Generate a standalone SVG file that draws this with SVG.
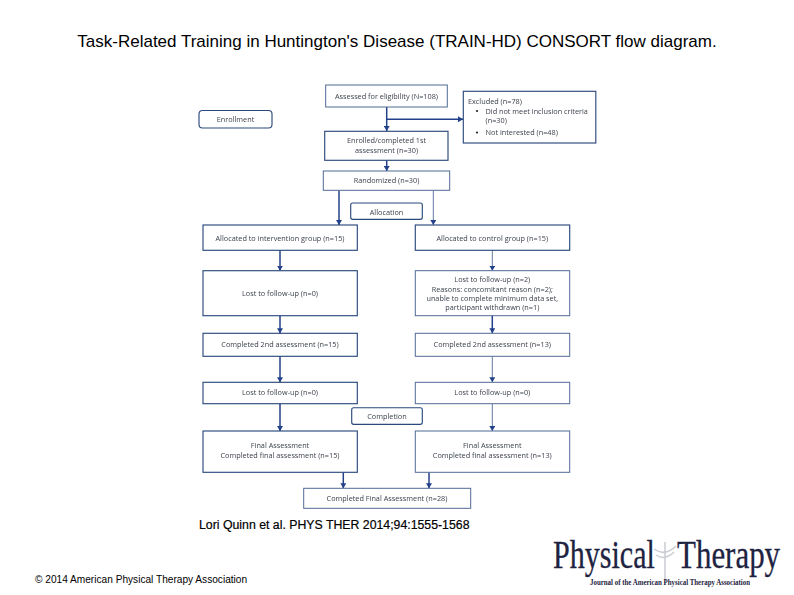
<svg xmlns="http://www.w3.org/2000/svg" width="794" height="595" viewBox="0 0 794 595">
<style>
.b{fill:#fff;stroke:#4f6a95;stroke-width:1}
.h{stroke:#2b4a7c;stroke-width:1.15}
.t{font-family:"Open Sans","Liberation Sans",sans-serif;font-size:7.3px;fill:#3c424c;text-anchor:middle;filter:url(#s)}
.l{text-anchor:start}
.c{fill:none;stroke:#5f78a3;stroke-width:1}
.k{stroke:#23408a;stroke-width:1.5}
.cap{font-family:"Liberation Sans",Arial,sans-serif;fill:#000}
.logo{font-family:"Liberation Serif","Times New Roman",serif;fill:#1e2342}
</style>
<defs>
<filter id="s" x="-5%" y="-30%" width="110%" height="160%"><feGaussianBlur stdDeviation="0.28"/></filter>
<marker id="a" markerUnits="userSpaceOnUse" markerWidth="6" markerHeight="6" refX="5" refY="3" orient="auto"><path d="M0 0L5 3L0 6Z" fill="#23408a"/></marker>
</defs>
<rect width="794" height="595" fill="#fff"/>
<text class="cap" x="397" y="46.5" font-size="17" text-anchor="middle">Task-Related Training in Huntington's Disease (TRAIN-HD) CONSORT flow diagram.</text>
<g id="connectors">
<path class="c k" marker-end="url(#a)" d="M386.7 107V131"/>
<path class="c k" marker-end="url(#a)" d="M386.7 119.3H463"/>
<path class="c k" marker-end="url(#a)" d="M386.7 160V171"/>
<path class="c k" marker-end="url(#a)" d="M339 190.3V225"/>
<path class="c" marker-end="url(#a)" d="M433.3 190.3V225"/>
<path class="c k" marker-end="url(#a)" d="M280 250.3V270.7"/>
<path class="c" marker-end="url(#a)" d="M492.3 250.3V270.7"/>
<path class="c k" marker-end="url(#a)" d="M280 315.7V333.3"/>
<path class="c k" marker-end="url(#a)" d="M492.3 315.7V333.3"/>
<path class="c k" marker-end="url(#a)" d="M280 356.3V382.3"/>
<path class="c" marker-end="url(#a)" d="M492.3 356.3V382.3"/>
<path class="c k" marker-end="url(#a)" d="M280 403.7V431"/>
<path class="c" marker-end="url(#a)" d="M492.3 403.7V431"/>
<path class="c k" marker-end="url(#a)" d="M343.3 472.3V488.3"/>
<path class="c k" marker-end="url(#a)" d="M429 472.3V488.3"/>
</g>
<g id="enrollment"><rect class="b h" x="199" y="110.5" width="73" height="17.5" rx="3.5"/><text class="t" x="235.5" y="122">Enrollment</text></g>
<g id="assessed"><rect class="b" x="325.7" y="85" width="121.6" height="22"/><text class="t" x="386.5" y="98.5">Assessed for eligibility (N=108)</text></g>
<g id="excluded"><rect class="b h" x="463.3" y="91.3" width="132.5" height="51.7"/>
<text class="t l" x="468" y="104">Excluded (n=78)</text>
<circle cx="477" cy="111" r="1.1" fill="#222"/><text class="t l" x="485.5" y="113.5">Did not meet inclusion criteria</text>
<text class="t l" x="485.5" y="122.5">(n=30)</text>
<circle cx="477" cy="132.5" r="1.1" fill="#222"/><text class="t l" x="485.5" y="135">Not interested (n=48)</text></g>
<g id="enrolled"><rect class="b h" x="324.7" y="131.3" width="123.3" height="29"/><text class="t" x="386.5" y="143">Enrolled/completed 1st</text><text class="t" x="386.5" y="152.5">assessment (n=30)</text></g>
<g id="randomized"><rect class="b" x="323.3" y="171" width="126.4" height="19.3"/><text class="t" x="386.5" y="183">Randomized (n=30)</text></g>
<g id="allocation"><rect class="b h" x="350.7" y="203" width="71.6" height="16.3" rx="2"/><text class="t" x="386.5" y="214.5">Allocation</text></g>
<g id="alloc-int"><rect class="b h" x="203" y="225" width="154.3" height="25.3"/><text class="t" x="280" y="240.5">Allocated to intervention group (n=15)</text></g>
<g id="alloc-ctl"><rect class="b h" x="415.3" y="225" width="154.4" height="25.3"/><text class="t" x="492.3" y="240.5">Allocated to control group (n=15)</text></g>
<g id="lost-int-1"><rect class="b h" x="203" y="270.7" width="154.3" height="45"/><text class="t" x="280" y="295.5">Lost to follow-up (n=0)</text></g>
<g id="lost-ctl-1"><rect class="b" x="415.3" y="270.7" width="154.4" height="45"/>
<text class="t" x="492.3" y="282">Lost to follow-up (n=2)</text><text class="t" x="492.3" y="291.5">Reasons: concomitant reason (n=2);</text><text class="t" x="492.3" y="300.5">unable to complete minimum data set,</text><text class="t" x="492.3" y="309.5">participant withdrawn (n=1)</text></g>
<g id="second-int"><rect class="b h" x="203" y="333.3" width="154.3" height="23"/><text class="t" x="280" y="346.5">Completed 2nd assessment (n=15)</text></g>
<g id="second-ctl"><rect class="b" x="415.3" y="333.3" width="154.4" height="23"/><text class="t" x="492.3" y="346.5">Completed 2nd assessment (n=13)</text></g>
<g id="lost-int-2"><rect class="b h" x="203" y="382.3" width="154.3" height="21.4"/><text class="t" x="280" y="395">Lost to follow-up (n=0)</text></g>
<g id="lost-ctl-2"><rect class="b" x="415.3" y="382.3" width="154.4" height="21.4"/><text class="t" x="492.3" y="395">Lost to follow-up (n=0)</text></g>
<g id="completion"><rect class="b h" x="351.7" y="407.7" width="70.6" height="16.6" rx="2"/><text class="t" x="387" y="419">Completion</text></g>
<g id="final-int"><rect class="b h" x="203" y="431" width="154.3" height="41.3"/><text class="t" x="280" y="448">Final Assessment</text><text class="t" x="280" y="457.5">Completed final assessment (n=15)</text></g>
<g id="final-ctl"><rect class="b" x="415.3" y="431" width="154.4" height="41.3"/><text class="t" x="492.3" y="448">Final Assessment</text><text class="t" x="492.3" y="457.5">Completed final assessment (n=13)</text></g>
<g id="final-all"><rect class="b" x="303.7" y="488.3" width="167" height="20"/><text class="t" x="387" y="500.5">Completed Final Assessment (n=28)</text></g>
<text class="cap" x="199" y="529" font-size="12.3" stroke="#000" stroke-width=".2">Lori Quinn et al. PHYS THER 2014;94:1555-1568</text>
<text class="cap" x="35" y="583" font-size="10.15">© 2014 American Physical Therapy Association</text>
<g id="logo">
<path d="M665 542V585M654 549Q665 557 676 546M656 555Q665 561 674 552" fill="none" stroke="#c9ccd2" stroke-width="1.5"/>
<text class="logo" transform="matrix(.752 0 0 1 553 568)" font-size="40" stroke="#1e2342" stroke-width=".3">Physical</text>
<text class="logo" transform="matrix(.774 0 0 1 677 568)" font-size="40" stroke="#1e2342" stroke-width=".3">Therapy</text>
<text class="logo" x="590" y="585" font-size="8.5" font-weight="bold" textLength="160" lengthAdjust="spacingAndGlyphs">Journal of the American Physical Therapy Association</text>
</g>
</svg>
